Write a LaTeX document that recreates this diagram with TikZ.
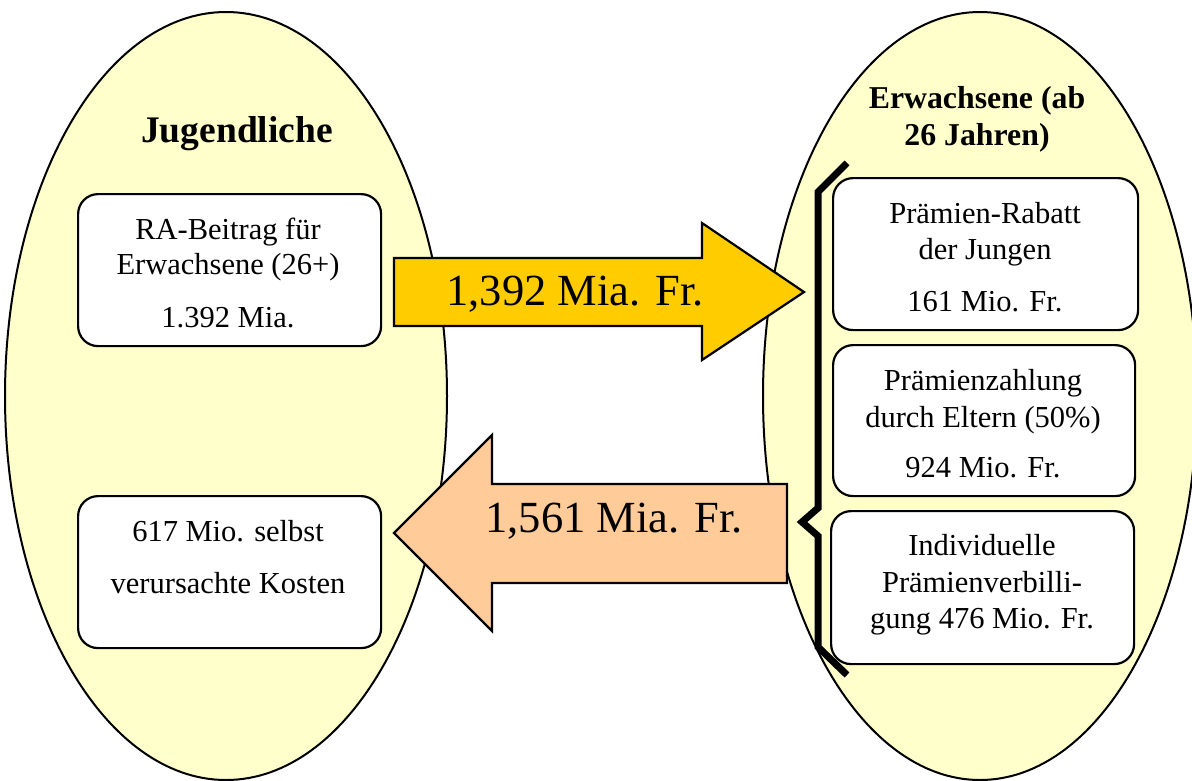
\documentclass[tikz,border=0pt]{standalone}
\usepackage{fontspec}
\setmainfont{Liberation Serif}
\definecolor{ellfill}{HTML}{FFFFCC}
\definecolor{goldarrow}{HTML}{FFCC00}
\definecolor{peacharrow}{HTML}{FFCC99}
\begin{document}
\begin{tikzpicture}[x=1pt,y=-1pt,
  ell/.style={draw=black, line width=2pt, fill=ellfill},
  box/.style={draw=black, line width=2.2pt, fill=white, rounded corners=20pt, inner sep=0pt, anchor=north west},
  blockarrow/.style={draw=black, line width=2.2pt, line join=miter},
  boxtext/.style={anchor=base, inner sep=0pt, font=\fontsize{30.5}{34}\selectfont},
  arrowtext/.style={anchor=base, inner sep=0pt, font=\fontsize{44.5}{50}\selectfont},
  titletext/.style={anchor=base, inner sep=0pt, font=\bfseries\fontsize{31.8}{37}\selectfont},
  bracestyle/.style={draw=black, line width=7pt, line join=miter}]
\useasboundingbox (0,0) rectangle (1192,780);
\clip (0,0) rectangle (1192,780);
% ellipses
\path[ell] (226,396) ellipse [x radius=221, y radius=384];
\path[ell] (980,396) ellipse [x radius=217, y radius=384];
% titles
\node[titletext, font=\bfseries\fontsize{37.5}{40}\selectfont] (tj) at (237,142) {Jugendliche};
\node[titletext] (te1) at (977,108) {Erwachsene (ab};
\node[titletext] (te2) at (977,145) {26 Jahren)};
% left boxes
\node[box, minimum width=303pt, minimum height=152pt] (lb1) at (77,193) {};
\node[boxtext] (lb1a) at (228,239) {RA-Beitrag für};
\node[boxtext] (lb1b) at (228,274) {Erwachsene (26+)};
\node[boxtext] (lb1c) at (228,327) {1.392 Mia.};
\node[box, minimum width=303pt, minimum height=152pt] (lb2) at (77,495) {};
\node[boxtext] (lb2a) at (228,541) {617 Mio. selbst};
\node[boxtext] (lb2b) at (228,593) {verursachte Kosten};
% right boxes
\node[box, minimum width=305pt, minimum height=152pt] (rb1) at (832,177) {};
\node[boxtext] (rb1a) at (985,223) {Prämien-Rabatt};
\node[boxtext] (rb1b) at (985,259) {der Jungen};
\node[boxtext] (rb1c) at (985,311) {161 Mio. Fr.};
\node[box, minimum width=302pt, minimum height=151pt] (rb2) at (832,344) {};
\node[boxtext] (rb2a) at (983,390) {Prämienzahlung};
\node[boxtext] (rb2b) at (983,427) {durch Eltern (50\%)};
\node[boxtext] (rb2c) at (983,477) {924 Mio. Fr.};
\node[box, minimum width=303pt, minimum height=153pt] (rb3) at (830,510) {};
\node[boxtext] (rb3a) at (982,555) {Individuelle};
\node[boxtext] (rb3b) at (982,592) {Prämienverbilli-};
\node[boxtext] (rb3c) at (982,628) {gung 476 Mio. Fr.};
% block arrows
\path[blockarrow, fill=goldarrow] (394,258) -- (702,258) -- (702,223) -- (804,292) -- (702,360) -- (702,326) -- (394,326) -- cycle;
\node[arrowtext] (a1) at (575,305) {1,392 Mia. Fr.};
\path[blockarrow, fill=peacharrow] (787,484) -- (492,484) -- (492,435) -- (394,533) -- (492,631) -- (492,583) -- (787,583) -- cycle;
\node[arrowtext] (a2) at (614,532) {1,561 Mia. Fr.};
% brace
\path[bracestyle] (847,163) -- (818,192) -- (818,508) -- (802,522) -- (818,536) -- (818,647) -- (847,675);
\end{tikzpicture}
\end{document}
